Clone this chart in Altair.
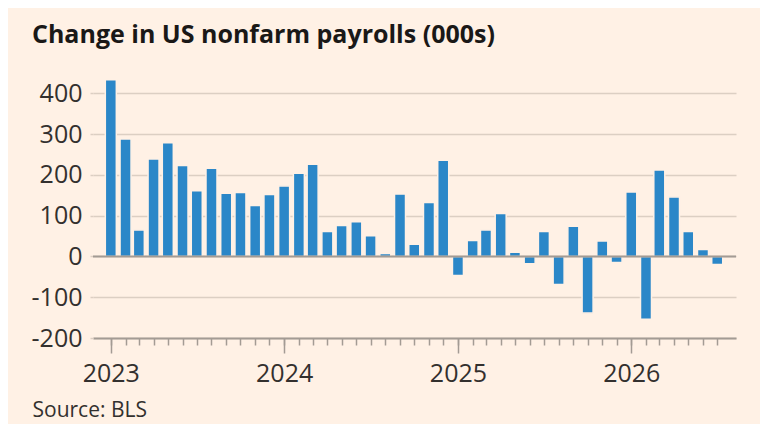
import altair as alt
import pandas as pd

# ---- data ----
months = [f"{y}-{m:02d}-01" for y in range(2023, 2027) for m in range(1, 13)][:43]
values = [
    433, 288, 65, 239, 279, 223, 161, 216, 155, 157, 125, 152,   # 2023
    173, 204, 226, 61, 76, 85, 51, 7, 153, 30, 132, 236,         # 2024
    -47, 39, 65, 105, 10, -18, 61, -69, 74, -139, 38, -15,       # 2025
    158, -154, 212, 146, 61, 17, -20,                            # 2026
]
year_ticks = ["2023-01-01", "2024-01-01", "2025-01-01", "2026-01-01"]
y_ticks = [-200, -100, 0, 100, 200, 300, 400]
x_domain = ["2022-12-05", "2026-07-30"]
y_domain = [-200, 440]


def ms(s):
    return int(pd.Timestamp(s, tz="UTC").value // 10**6)


df = pd.DataFrame({"month": months, "change": values})
zero = pd.DataFrame({"y": [0]})

FONT = "Open Sans"
BG = "#FFF1E5"
BAR = "#2b87c8"
GRID = "#dccfc3"
AXIS = "#a39b94"
TEXT = "#33302e"

xscale = alt.Scale(type="utc", domain=[ms(d) for d in x_domain])
yscale = alt.Scale(domain=y_domain, nice=False, zero=False)

year_axis = alt.Axis(
    orient="bottom",
    values=[ms(d) for d in year_ticks],
    format="%Y",
    formatType="utc",
    grid=False,
    domain=True,
    domainColor=AXIS,
    domainWidth=2,
    ticks=True,
    tickSize=15,
    tickWidth=1.5,
    tickColor=AXIS,
    labelFont=FONT,
    labelFontSize=25,
    labelColor=TEXT,
    labelPadding=8,
    labelFlush=False,
    title="Source: BLS",
    titleFont=FONT,
    titleFontSize=21,
    titleFontWeight="normal",
    titleColor=TEXT,
    titleAlign="left",
    titleBaseline="alphabetic",
    titleAnchor="start",
    titleX=-61,
    titleY=78,
)

month_axis = alt.Axis(
    orient="bottom",
    values=[ms(d) for d in months],
    labels=False,
    grid=False,
    domain=False,
    ticks=True,
    tickSize=7,
    tickWidth=1.5,
    tickColor=AXIS,
    title=None,
)

y_axis = alt.Axis(
    values=y_ticks,
    labelExpr="datum.value + ''",
    grid=True,
    gridColor=GRID,
    gridWidth=1.5,
    domain=False,
    ticks=True,
    tickSize=3,
    tickWidth=1.5,
    tickColor=GRID,
    labelFont=FONT,
    labelFontSize=25,
    labelColor=TEXT,
    labelPadding=8,
    title=None,
)

bars = alt.Chart(df).mark_bar(
    size=11, color=BAR, stroke=BG, strokeWidth=1.5
).encode(
    x=alt.X("month:T", scale=xscale, axis=year_axis),
    y=alt.Y("change:Q", scale=yscale, axis=y_axis),
)

minor = alt.Chart(df).mark_point(opacity=0).encode(
    x=alt.X("month:T", scale=xscale, axis=month_axis),
    y=alt.Y("change:Q", scale=yscale, axis=y_axis),
)

zero_rule = alt.Chart(zero).mark_rule(color=AXIS, strokeWidth=2).encode(
    y=alt.Y("y:Q", scale=yscale, axis=y_axis),
)

chart = alt.layer(bars, minor, zero_rule).resolve_axis(
    x="independent"
).properties(
    width=643,
    height=261,
    autosize=alt.AutoSizeParams(type="none"),
    padding={"left": 85, "top": 69, "right": 24, "bottom": 86},
    background=BG,
    title=alt.TitleParams(
        "Change in US nonfarm payrolls (000s)",
        anchor="start",
        frame="group",
        dx=-61,
        offset=9,
        baseline="alphabetic",
        font=FONT,
        fontSize=25,
        fontWeight="bold",
        color="#1a1817",
    ),
).configure_view(stroke=None)

chart.save("out.html", embed_options={"renderer": "svg", "actions": False})
